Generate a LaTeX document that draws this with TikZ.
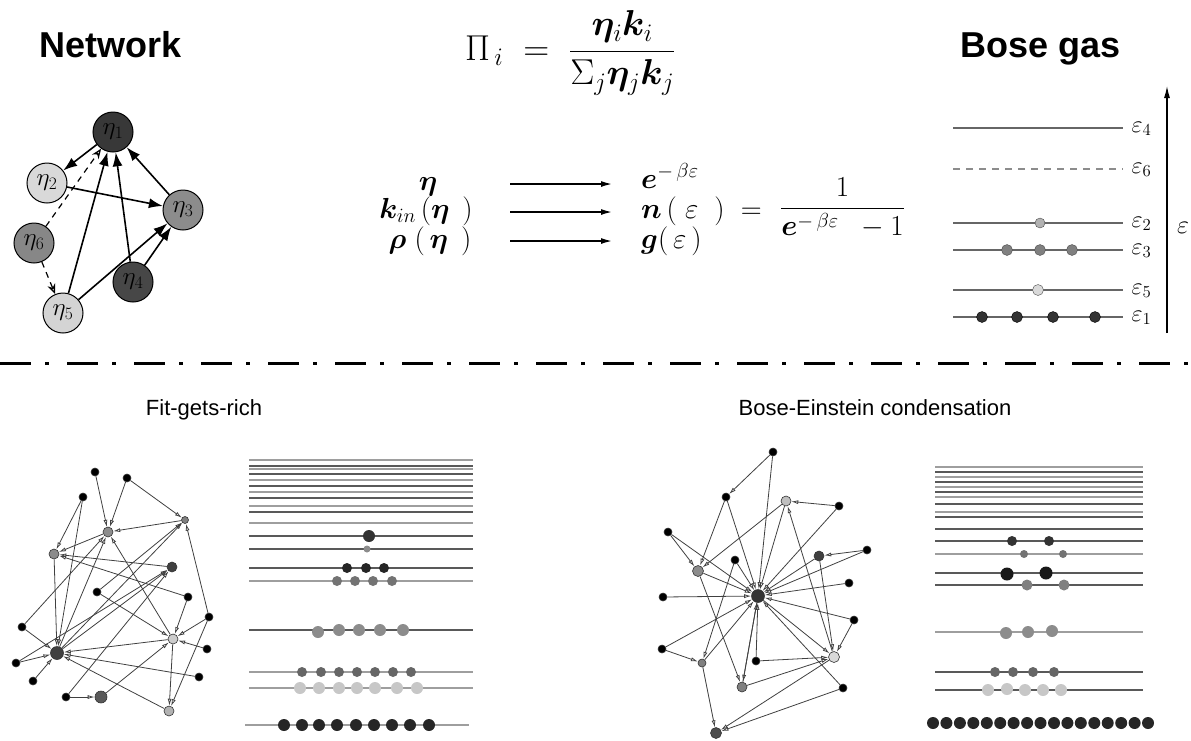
\RequirePackage{fix-cm}
\documentclass[tikz,border=0pt]{standalone}
\usepackage{amsmath,bm}
\usepackage{fontspec}
\newfontfamily\arial{Liberation Sans}
\usetikzlibrary{arrows.meta}

\begin{document}
\begin{tikzpicture}[x=1pt,y=-1pt,
    nd/.style={circle,draw=black,line width=1pt,minimum size=40pt,inner sep=0pt,font=\fontsize{25}{27}\selectfont},
    big/.style={-{Latex[length=14pt,width=10pt]},line width=1.6pt},
    dsh/.style={-{Stealth[open,length=10pt,width=8pt]},dash pattern=on 6pt off 5pt,line width=1.2pt},
    vtx/.style={circle,draw=black!80,line width=0.6pt,inner sep=0pt,minimum size=#1},
    lnk/.style={-{Latex[open,length=7pt,width=4pt]},line width=0.8pt,black!75},
    lvd/.style={line width=1.4pt,black!65},
    lvl/.style={line width=1.4pt,black!38},
    ttl/.style={font=\arial\bfseries\fontsize{36}{40}\selectfont},
    sub/.style={font=\arial\fontsize{22}{26}\selectfont},
    fml/.style={font=\fontsize{29}{33}\selectfont,inner sep=0pt},
    fwd/.style={-{Latex[length=11pt,width=6pt]},line width=1.4pt}]
\useasboundingbox (0,0) rectangle (1191,740);

        %titles
        \node[ttl,anchor=base] (net) at (111,57) {Network};
        \node[ttl,anchor=base] (bose) at (1041,57) {Bose gas};
        \node[sub,anchor=base] (fit) at (204,415) {Fit-gets-rich};
        \node[sub,anchor=base] (bec) at (875,415) {Bose-Einstein condensation};

        %network
        \node[nd,fill=black!78] (1) at (113,132) {$\eta_1$};
        \node[nd,fill=black!15] (2) at (47,183) {$\eta_2$};
        \node[nd,fill=black!45] (3) at (183,210) {$\eta_3$};
        \node[nd,fill=black!47] (6) at (34,243) {$\eta_6$};
        \node[nd,fill=black!72] (4) at (133,282) {$\eta_4$};
        \node[nd,fill=black!17] (5) at (63,313) {$\eta_5$};
        \draw[big] (1) edge (2) (2) edge (3) (3) edge (1) (4) edge (1) (5) edge (1) (5) edge (3) (4) edge (3);
        \draw[dsh] (6) edge (1) (6) edge (5);

        %formulas
        \node[font=\fontsize{36}{40}\selectfont,inner sep=0pt,anchor=base west] (pi) at (465,60)
            {$\displaystyle\Pi_{\,i}\;=\;\frac{\bm{\eta}_i\bm{k}_i}{\Sigma_j\bm{\eta}_j\bm{k}_j}$};
        \node[fml,anchor=base] (r1) at (428,190) {$\bm{\eta}$};
        \node[fml,anchor=base] (r2) at (426,218) {$\bm{k}_{in}\,(\bm{\eta}\;\,)$};
        \node[fml,anchor=base] (r3) at (430,248) {$\bm{\rho}\;(\,\bm{\eta}\;\,)$};
        \node[fml,anchor=base west] (s1) at (641,188) {$\bm{e}^{-\,\beta\varepsilon}$};
        \node[fml,anchor=base west] (s2) at (641,218) {$\bm{n}\,(\;\varepsilon\;\;)\;=$};
        \node[fml,anchor=base west] (s2f) at (780,216) {$\dfrac{1}{\bm{e}^{-\,\beta\varepsilon}\;\;-1}$};
        \node[fml,anchor=base west] (s3) at (641,248) {$\bm{g}(\,\varepsilon\,)$};
        \coordinate (a1) at (510,184); \coordinate (b1) at (612,184);
        \coordinate (a2) at (510,212); \coordinate (b2) at (612,212);
        \coordinate (a3) at (510,241); \coordinate (b3) at (612,241);
        \draw[fwd] (a1) -- (b1);
        \draw[fwd] (a2) -- (b2);
        \draw[fwd] (a3) -- (b3);

        %bose gas
        \draw[line width=1.2pt,black!60] (953,128)--(1123,128);
        \draw[line width=1.2pt,black!45,dash pattern=on 7pt off 6pt] (953,169)--(1123,169);
        \draw[line width=1.2pt,black!60] (953,223)--(1123,223) (953,250)--(1123,250)
            (953,290)--(1123,290) (953,317)--(1123,317);
        \filldraw[fill=black!30,draw=black!70] (1040,223) circle (5);
        \filldraw[fill=black!50,draw=black!70] (1007,250) circle (5.5) (1040,250) circle (5.5) (1072,250) circle (5.5);
        \filldraw[fill=black!15,draw=black!70] (1038,290) circle (5.5);
        \filldraw[fill=black!80,draw=black] (982,317) circle (5.5) (1017,317) circle (5.5)
            (1053,317) circle (5.5) (1095,317) circle (5.5);
        \node[font=\fontsize{24}{26}\selectfont,anchor=west] (e4) at (1128,129) {$\varepsilon_4$};
        \node[font=\fontsize{24}{26}\selectfont,anchor=west] (e6) at (1128,170) {$\varepsilon_6$};
        \node[font=\fontsize{24}{26}\selectfont,anchor=west] (e2) at (1128,224) {$\varepsilon_2$};
        \node[font=\fontsize{24}{26}\selectfont,anchor=west] (e3) at (1128,251) {$\varepsilon_3$};
        \node[font=\fontsize{24}{26}\selectfont,anchor=west] (e5) at (1128,291) {$\varepsilon_5$};
        \node[font=\fontsize{24}{26}\selectfont,anchor=west] (e1) at (1128,318) {$\varepsilon_1$};
        \coordinate (ax0) at (1167,333); \coordinate (ax1) at (1167,86);
        \draw[-{Latex[length=12pt,width=6pt]},line width=1.2pt] (ax0) -- (ax1);
        \node[font=\fontsize{26}{28}\selectfont] (eps) at (1183,228) {$\varepsilon$};

        %separator
        \draw[line width=3pt,dash pattern=on 31pt off 14pt on 4pt off 18pt] (0,363)--(1191,363);

        %fit-gets-rich network
        \node[vtx=8pt,fill=black] (a) at (95,472){};
        \node[vtx=8pt,fill=black] (b) at (127,478){};
        \node[vtx=8pt,fill=black] (c) at (83,497){};
        \node[vtx=7pt,fill=black!50] (d) at (185,520){};
        \node[vtx=10pt,fill=black!45] (e) at (108,532){};
        \node[vtx=10pt,fill=black!45] (f) at (54,554){};
        \node[vtx=10pt,fill=black!75] (g) at (172,567){};
        \node[vtx=8pt,fill=black] (h) at (97,592){};
        \node[vtx=8pt,fill=black] (i) at (188,597){};
        \node[vtx=8pt,fill=black] (j) at (209,617){};
        \node[vtx=8pt,fill=black] (k) at (22,627){};
        \node[vtx=10pt,fill=black!20] (l) at (173,639){};
        \node[vtx=13pt,fill=black!75] (m) at (57,653){};
        \node[vtx=8pt,fill=black] (n) at (207,649){};
        \node[vtx=8pt,fill=black] (o) at (16,663){};
        \node[vtx=8pt,fill=black] (p) at (33,681){};
        \node[vtx=8pt,fill=black] (q) at (199,677){};
        \node[vtx=8pt,fill=black] (r) at (66,697){};
        \node[vtx=12pt,fill=black!65] (s) at (101,697){};
        \node[vtx=10pt,fill=black!30] (t) at (169,711){};
        \draw[lnk] (a) edge (e) (b) edge (e) (b) edge (d) (c) edge (f) (c) edge (m) (d) edge (e)
            (e) edge (f) (f) edge (m) (m) edge (e) (i) edge (f) (g) edge (f) (h) edge (l) (h) edge (d)
            (l) edge (e) (m) edge (d) (m) edge (g) (k) edge (m) (k) edge (e) (o) edge (m) (p) edge (m)
            (r) edge (s) (s) edge (l) (r) edge (g) (t) edge (m) (q) edge (m) (l) edge (m) (i) edge (l)
            (j) edge (l) (n) edge (l) (j) edge (d) (l) edge (t) (j) edge (t) (o) edge (g);

        %fit-gets-rich levels
        \draw[lvl] (249,460)--(473,460) (249,469)--(473,469) (249,480)--(473,480) (249,492)--(473,492)
            (249,506)--(473,506) (249,523)--(473,523) (249,581)--(473,581) (249,672)--(473,672)
            (249,688)--(473,688) (245,725)--(469,725);
        \draw[lvd] (249,466)--(473,466) (249,474)--(473,474) (249,486)--(473,486) (249,498)--(473,498)
            (249,512)--(473,512) (249,536)--(473,536) (249,549)--(473,549) (249,568)--(473,568)
            (249,630)--(473,630);
        \fill[black!80] (369,536) circle (6);
        \fill[black!45] (367,549) circle (3.5);
        \fill[black!85] (347,568) circle (5) (366,568) circle (5) (384,568) circle (5);
        \fill[black!55] (337,581) circle (5) (355,581) circle (5) (373,581) circle (5) (392,581) circle (5);
        \fill[black!45] (318,632) circle (6) (339,630) circle (6) (359,630) circle (6) (380,630) circle (6) (403,630) circle (6);
        \fill[black!60] (302,672) circle (5) (321,672) circle (5) (339,672) circle (5) (357,672) circle (5)
            (375,672) circle (5) (393,672) circle (5) (411,672) circle (5);
        \fill[black!22] (300,688) circle (6) (319,688) circle (6) (339,688) circle (6) (357,688) circle (6)
            (375,688) circle (6) (397,688) circle (6) (417,688) circle (6);
        \fill[black!85] (284,725) circle (6) (302,725) circle (6) (319,725) circle (6) (337,725) circle (6)
            (356,725) circle (6) (374,725) circle (6) (392,725) circle (6) (410,725) circle (6) (429,725) circle (6);

        %condensation network
        \node[vtx=8pt,fill=black] (A) at (773,452){};
        \node[vtx=8pt,fill=black] (B) at (726,497){};
        \node[vtx=10pt,fill=black!25] (C) at (786,501){};
        \node[vtx=8pt,fill=black] (D) at (839,506){};
        \node[vtx=8pt,fill=black] (E) at (668,532){};
        \node[vtx=10pt,fill=black!75] (F) at (819,556){};
        \node[vtx=8pt,fill=black] (G) at (867,550){};
        \node[vtx=8pt,fill=black] (H) at (735,560){};
        \node[vtx=11pt,fill=black!45] (I) at (698,571){};
        \node[vtx=8pt,fill=black] (J) at (849,583){};
        \node[vtx=13pt,fill=black!80] (K) at (758,596){};
        \node[vtx=8pt,fill=black] (L) at (663,597){};
        \node[vtx=8pt,fill=black] (M) at (854,620){};
        \node[vtx=8pt,fill=black] (N) at (662,649){};
        \node[vtx=8pt,fill=black!50] (O) at (702,663){};
        \node[vtx=8pt,fill=black] (P) at (756,661){};
        \node[vtx=11pt,fill=black!15] (Q) at (834,657){};
        \node[vtx=10pt,fill=black!50] (R) at (742,687){};
        \node[vtx=8pt,fill=black] (S) at (843,688){};
        \node[vtx=11pt,fill=black!70] (T) at (716,733){};
        \draw[lnk] (A) edge (B) (A) edge (K) (B) edge (I) (B) edge (K) (C) edge (K) (C) edge (I)
            (D) edge (C) (D) edge (K) (E) edge (I) (E) edge (K) (G) edge (F) (G) edge (K) (F) edge (Q)
            (Q) edge (C) (H) edge (K) (H) edge (O) (I) edge (K) (I) edge (R) (J) edge (K) (L) edge (K)
            (M) edge (Q) (M) edge (K) (N) edge (O) (N) edge (K) (O) edge (K) (P) edge (Q) (P) edge (K)
            (R) edge (K) (R) edge (Q) (K) edge (Q) (K) edge (R) (S) edge (T) (S) edge (K) (O) edge (T)
            (Q) edge (T) (F) edge (K);

        %condensation levels
        \draw[lvl] (935,467)--(1143,467) (935,477)--(1143,477) (935,487)--(1143,487) (935,497)--(1143,497)
            (935,512)--(1143,512) (935,554)--(1143,554) (935,632)--(1143,632);
        \draw[lvd] (935,472)--(1143,472) (935,482)--(1143,482) (935,492)--(1143,492) (935,504)--(1143,504)
            (935,517)--(1143,517) (935,529)--(1143,529) (935,541)--(1143,541) (935,573)--(1143,573)
            (935,585)--(1143,585) (935,672)--(1143,672) (935,690)--(1143,690);
        \fill[black!80] (1012,541) circle (5) (1049,541) circle (5);
        \fill[black!55] (1024,554) circle (4) (1063,554) circle (4);
        \fill[black!90] (1007,574) circle (6.5) (1046,573) circle (6.5);
        \fill[black!50] (1027,585) circle (5.5) (1064,585) circle (5.5);
        \fill[black!45] (1006,633) circle (6) (1028,632) circle (6) (1052,631) circle (6);
        \fill[black!60] (995,672) circle (5) (1013,672) circle (5) (1033,672) circle (5) (1054,672) circle (5);
        \fill[black!22] (988,690) circle (6) (1007,689) circle (6) (1025,690) circle (6) (1043,690) circle (6) (1061,690) circle (6);
        \fill[black!85] (933,723) circle (6) (946.4,723) circle (6) (959.9,723) circle (6) (973.3,723) circle (6)
            (986.8,723) circle (6) (1000.2,723) circle (6) (1013.6,723) circle (6) (1027.1,723) circle (6)
            (1040.5,723) circle (6) (1054,723) circle (6) (1067.4,723) circle (6) (1080.8,723) circle (6)
            (1094.3,723) circle (6) (1107.7,723) circle (6) (1121.2,723) circle (6) (1134.6,723) circle (6)
            (1148,723) circle (6);
\end{tikzpicture}
\end{document}
